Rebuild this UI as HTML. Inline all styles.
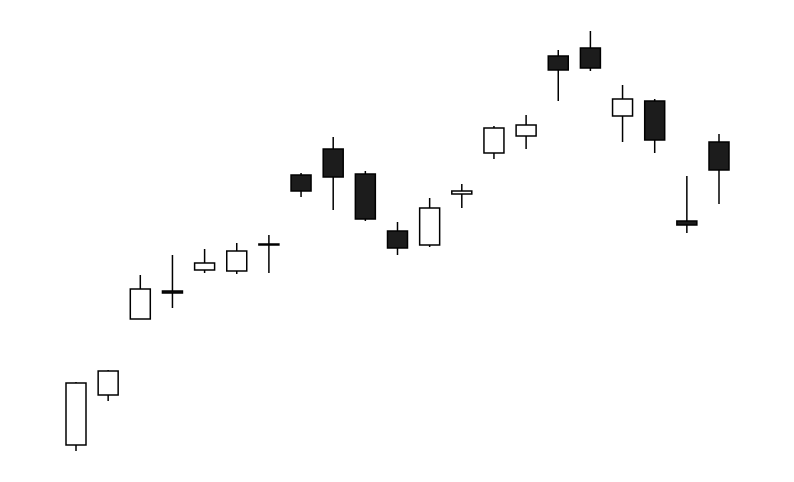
<!DOCTYPE html>
<html><head><meta charset="utf-8"><style>
html,body{margin:0;padding:0;background:#fff;}
svg{display:block;}
</style></head><body>
<svg id="chart" width="794" height="482" xmlns="http://www.w3.org/2000/svg"></svg>
<script>
const categories = ["d1","d2","d3","d4","d5","d6","d7","d8","d9","d10","d11","d12","d13","d14","d15","d16","d17","d18","d19","d20","d21"];
const openVals  = [55,105,181,209,230,229,256,325,351,326,269,255,306,347,364,444,452,384,399,279,358];
const closeVals = [117,129,211,207,237,249,256,309,323,281,252,292,309,372,375,430,432,401,360,275,330];
const highVals  = [118,130,225,245,251,257,265,327,363,329,278,302,316,374,385,450,469,415,401,324,366];
const lowVals   = [49,99,181,192,227,226,227,303,290,279,245,253,292,341,351,399,429,358,347,267,296];

const svg = document.getElementById('chart');
const NS = 'http://www.w3.org/2000/svg';
const x0 = 76, step = 32.15, bw = 20;
function xScale(i){ return x0 + i*step; }
function yScale(p){ return 500 - p; }

categories.forEach((c,i)=>{
  const g = document.createElementNS(NS,'g');
  
  
  const x = xScale(i);
  const o = openVals[i], cl = closeVals[i];
  const up = cl >= o;
  const wick = document.createElementNS(NS,'line');
  
  
  wick.setAttribute('x1', x); wick.setAttribute('x2', x);
  wick.setAttribute('y1', yScale(highVals[i])); wick.setAttribute('y2', yScale(lowVals[i]));
  wick.setAttribute('stroke', '#000'); wick.setAttribute('stroke-width', 1.5);
  g.appendChild(wick);
  const top = yScale(Math.max(o,cl)), bot = yScale(Math.min(o,cl));
  const r = document.createElementNS(NS,'rect');
  
  
  r.setAttribute('x', x - bw/2); r.setAttribute('width', bw);
  r.setAttribute('y', top); r.setAttribute('height', Math.max(bot-top, 1));
  r.setAttribute('fill', up ? '#fff' : '#1c1c1c');
  r.setAttribute('stroke', '#000'); r.setAttribute('stroke-width', 1.5);
  g.appendChild(r);
  svg.appendChild(g);
});
</script>
</body></html>
